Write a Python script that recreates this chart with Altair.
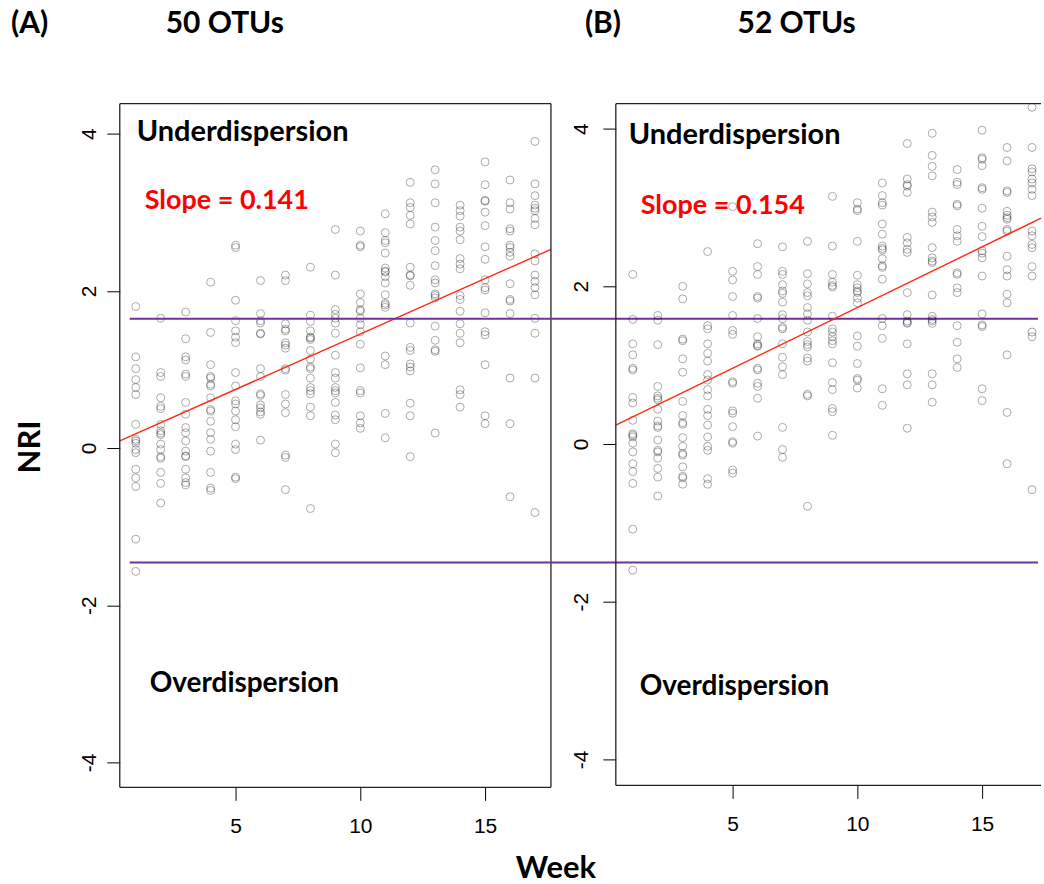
import altair as alt
import pandas as pd

WEEKS = list(range(1, 18))

# Panel A (50 OTUs): NRI values per week 1..17
NRI_A = [
    [1.80, 1.16, 1.01, 0.87, 0.77, 0.68, 0.30, 0.11, 0.09, 0.06, -0.02, -0.06, -0.27, -0.38, -0.49, -1.16, -1.57],
    [1.65, 0.96, 0.91, 0.64, 0.53, 0.50, 0.30, 0.22, 0.19, 0.17, 0.05, -0.02, -0.11, -0.13, -0.31, -0.45, -0.70],
    [1.73, 1.39, 1.16, 1.12, 0.94, 0.91, 0.58, 0.43, 0.26, 0.195, 0.09, -0.04, -0.10, -0.11, -0.27, -0.38, -0.44, -0.47],
    [2.11, 1.47, 1.06, 0.91, 0.89, 0.81, 0.79, 0.64, 0.49, 0.47, 0.34, 0.195, 0.11, -0.04, -0.31, -0.51, -0.54],
    [2.58, 2.55, 1.88, 1.62, 1.49, 1.41, 1.34, 0.96, 0.79, 0.60, 0.56, 0.47, 0.36, 0.27, 0.05, -0.02, -0.37, -0.39],
    [2.13, 1.71, 1.62, 1.59, 1.46, 1.45, 1.01, 0.91, 0.69, 0.67, 0.55, 0.51, 0.46, 0.43, 0.10],
    [2.20, 2.13, 1.58, 1.51, 1.49, 1.34, 1.31, 1.27, 1.01, 0.99, 0.68, 0.56, 0.45, -0.09, -0.12, -0.53],
    [2.30, 1.69, 1.61, 1.49, 1.41, 1.40, 1.38, 1.24, 1.13, 1.03, 1.01, 0.89, 0.77, 0.73, 0.69, 0.52, 0.41, -0.77],
    [2.78, 2.20, 1.76, 1.70, 1.65, 1.59, 1.46, 1.18, 0.96, 0.89, 0.77, 0.73, 0.70, 0.58, 0.42, 0.36, 0.05, -0.06],
    [2.76, 2.58, 2.56, 1.96, 1.85, 1.76, 1.74, 1.65, 1.57, 1.48, 1.32, 1.02, 0.73, 0.70, 0.41, 0.32, 0.25],
    [2.98, 2.74, 2.64, 2.61, 2.48, 2.29, 2.25, 2.24, 2.18, 2.10, 1.95, 1.84, 1.82, 1.79, 1.17, 1.06, 0.44, 0.13],
    [3.38, 3.12, 3.06, 2.96, 2.85, 2.30, 2.20, 2.19, 2.07, 1.59, 1.28, 1.24, 1.07, 1.03, 0.98, 0.57, 0.41, -0.11],
    [3.54, 3.36, 3.12, 2.81, 2.64, 2.51, 2.32, 2.14, 2.10, 1.96, 1.94, 1.91, 1.55, 1.37, 1.25, 1.23, 0.19],
    [3.09, 3.02, 2.95, 2.81, 2.76, 2.65, 2.41, 2.34, 2.28, 1.94, 1.89, 1.74, 1.58, 1.46, 1.34, 0.74, 0.68, 0.52],
    [3.64, 3.35, 3.15, 3.14, 3.00, 2.83, 2.56, 2.40, 2.14, 2.04, 2.01, 1.72, 1.48, 1.44, 1.06, 0.41, 0.31],
    [3.41, 3.12, 3.04, 2.79, 2.76, 2.58, 2.55, 2.49, 2.44, 2.09, 1.89, 1.87, 1.71, 0.89, 0.31, -0.62],
    [3.90, 3.36, 3.21, 3.09, 3.05, 3.02, 2.92, 2.84, 2.47, 2.38, 2.20, 2.12, 2.04, 1.95, 1.65, 1.46, 0.89, -0.82],
]

# Panel B (52 OTUs): NRI values per week 1..17
NRI_B = [
    [2.15, 1.58, 1.27, 1.13, 0.96, 0.94, 0.59, 0.52, 0.30, 0.13, 0.11, 0.09, 0.01, -0.10, -0.25, -0.35, -0.50, -1.08, -1.60],
    [1.63, 1.57, 1.26, 0.73, 0.61, 0.58, 0.56, 0.44, 0.29, 0.23, 0.21, 0.05, -0.08, -0.10, -0.18, -0.31, -0.42, -0.66],
    [2.00, 1.84, 1.33, 1.31, 1.08, 0.91, 0.54, 0.36, 0.27, 0.25, 0.08, -0.03, -0.12, -0.14, -0.29, -0.41, -0.43, -0.51],
    [2.44, 1.50, 1.46, 1.27, 1.15, 1.05, 0.88, 0.81, 0.69, 0.61, 0.44, 0.36, 0.24, 0.09, -0.03, -0.08, -0.44, -0.51],
    [3.01, 2.19, 2.08, 1.87, 1.63, 1.44, 1.39, 0.79, 0.77, 0.42, 0.39, 0.22, 0.03, 0.01, -0.33, -0.37],
    [2.54, 2.25, 2.15, 1.87, 1.85, 1.59, 1.36, 1.27, 1.25, 1.24, 0.96, 0.94, 0.77, 0.73, 0.58, 0.10],
    [2.50, 2.19, 2.15, 2.02, 1.94, 1.91, 1.80, 1.64, 1.59, 1.48, 1.46, 1.27, 1.10, 0.98, 0.88, 0.21, -0.07, -0.17],
    [2.57, 2.16, 2.03, 1.92, 1.88, 1.73, 1.65, 1.57, 1.42, 1.30, 1.26, 1.23, 1.09, 1.05, 0.63, 0.61, -0.79],
    [3.14, 2.51, 2.15, 2.05, 2.01, 1.99, 1.62, 1.46, 1.42, 1.36, 1.31, 1.27, 1.03, 0.78, 0.69, 0.45, 0.41, 0.11],
    [3.06, 2.98, 2.96, 2.57, 2.14, 2.02, 1.98, 1.94, 1.92, 1.85, 1.79, 1.37, 1.24, 1.02, 0.83, 0.81, 0.71],
    [3.31, 3.15, 3.06, 3.03, 2.79, 2.66, 2.51, 2.48, 2.46, 2.35, 2.26, 2.24, 2.09, 1.59, 1.50, 1.34, 0.70, 0.49],
    [3.81, 3.36, 3.29, 3.27, 3.19, 2.62, 2.55, 2.47, 2.43, 1.92, 1.64, 1.56, 1.54, 1.53, 1.27, 0.89, 0.75, 0.20],
    [3.94, 3.66, 3.52, 3.40, 2.94, 2.88, 2.81, 2.49, 2.36, 2.32, 2.30, 1.89, 1.62, 1.58, 1.56, 1.53, 0.89, 0.75, 0.53],
    [3.48, 3.32, 3.29, 3.04, 3.02, 2.72, 2.64, 2.57, 2.17, 2.15, 1.98, 1.92, 1.50, 1.29, 1.08, 0.97],
    [3.98, 3.63, 3.61, 3.53, 3.25, 3.23, 2.99, 2.76, 2.63, 2.45, 2.42, 2.36, 2.13, 1.65, 1.51, 1.49, 0.70, 0.55],
    [3.76, 3.59, 3.21, 3.19, 2.95, 2.90, 2.87, 2.85, 2.72, 2.70, 2.38, 2.21, 2.13, 1.90, 1.79, 1.13, 0.40, -0.25],
    [4.27, 3.76, 3.49, 3.45, 3.36, 3.31, 3.23, 3.15, 2.70, 2.64, 2.53, 2.49, 2.25, 2.13, 1.42, 1.36, -0.58],
]

# Fitted regression lines (intercept, slope)
INTERCEPT_A, SLOPE_A = 0.04, 0.141
INTERCEPT_B, SLOPE_B = 0.19, 0.154

# Threshold lines (NRI)
THRESHOLDS = [1.645, -1.456]

X_TICKS = [5, 10, 15]
Y_TICKS = [-4, -2, 0, 2, 4]

TITLE_FONT = "Lato"
AXIS_FONT = "Liberation Sans"
TICK_FONT_SIZE = 21


def points_df(values):
    rows = []
    for w, vals in zip(WEEKS, values):
        for v in vals:
            rows.append({"week": w, "nri": v})
    return pd.DataFrame(rows)


def text_layer(txt, x, y, size, color="black", align="left", baseline="alphabetic", angle=0,
               font=TITLE_FONT, weight="bold"):
    kw = dict(align=align, baseline=baseline, font=font, fontWeight=weight,
              fontSize=size, color=color)
    if angle:
        kw["angle"] = angle
    return alt.Chart(pd.DataFrame({"t": [txt]})).mark_text(**kw).encode(
        x=alt.value(x), y=alt.value(y), text="t:N")


def frame_rule(x, x2, y, y2):
    return alt.Chart(pd.DataFrame({"k": [0]})).mark_rule(color="#222222", strokeWidth=1.3).encode(
        x=alt.value(x), x2=alt.value(x2), y=alt.value(y), y2=alt.value(y2))


def panel(values, xdom, ydom, W, H, icpt, slope, ylabel_pad, right_frame, extras):
    x_enc = alt.X("week:Q", scale=alt.Scale(domain=xdom, nice=False, zero=False),
                  axis=alt.Axis(values=X_TICKS, title=None, grid=False, domain=False,
                                tickSize=13, tickColor="black", labelFont=AXIS_FONT,
                                labelFontSize=TICK_FONT_SIZE, labelColor="black",
                                labelPadding=26, labelBaseline="middle", labelAngle=0,
                                labelAlign="center", labelExpr="toString(datum.value)"))
    y_enc = alt.Y("nri:Q", scale=alt.Scale(domain=ydom, nice=False, zero=False),
                  axis=alt.Axis(values=Y_TICKS, title=None, grid=False, domain=False,
                                tickSize=13, tickColor="black", labelFont=AXIS_FONT,
                                labelFontSize=TICK_FONT_SIZE, labelColor="black",
                                labelPadding=ylabel_pad, labelAngle=270, labelAlign="center",
                                labelBaseline="middle", labelExpr="toString(datum.value)"))
    pts = alt.Chart(points_df(values)).mark_point(
        shape="circle", filled=False, size=64, color="black", opacity=0.33, strokeWidth=1
    ).encode(x=x_enc, y=y_enc)

    xs = [xdom[0], xdom[1]]
    line_df = pd.DataFrame({"week": xs, "nri": [icpt + slope * v for v in xs]})
    reg = alt.Chart(line_df).mark_line(color="#ff2a10", strokeWidth=1.4).encode(
        x=x_enc, y=y_enc)

    layers = [pts, reg]
    layers.append(frame_rule(0, W, 0, 0))
    layers.append(frame_rule(0, W, H, H))
    layers.append(frame_rule(0, 0, 0, H))
    if right_frame:
        layers.append(frame_rule(W, W, 0, H))
    layers.extend(extras)
    return alt.layer(*layers).properties(width=W, height=H)


W_A, H_A = 432, 685
W_B, H_B = 426, 683

thr = alt.Chart(pd.DataFrame({"nri": THRESHOLDS})).mark_rule(
    color="#7030a0", strokeWidth=2).encode(
    x=alt.value(10), x2=alt.value(920), y="nri:Q")

anchor = alt.Chart(pd.DataFrame({"k": [0]})).mark_point(opacity=0, size=1).encode(
    x=alt.value(-119.5), y=alt.value(-102.5))

extras_A = [
    thr,
    anchor,
    text_layer("Underdispersion", 17, 37, 29),
    text_layer("Slope = 0.141", 25, 106, 27, color="#ff0000"),
    text_layer("Overdispersion", 30, 589, 28),
    text_layer("(A)", -109, -71, 30),
    text_layer("50 OTUs", 46, -71, 30),
    text_layer("NRI", -89, 344, 31, align="center", baseline="middle", angle=270),
    text_layer("Week", 437, 776, 31, align="center"),
]
extras_B = [
    text_layer("Underdispersion", 13, 40, 29),
    text_layer("Slope = 0.154", 25, 111, 27, color="#ff0000"),
    text_layer("Overdispersion", 24, 592, 28),
    text_layer("(B)", -31, -71, 30),
    text_layer("52 OTUs", 122, -71, 30),
]

pA = panel(NRI_A, [0.36, 17.64], [-4.317, 4.381], W_A, H_A, INTERCEPT_A, SLOPE_A, 17, True, extras_A)
pB = panel(NRI_B, [0.32, 17.36], [-4.329, 4.316], W_B, H_B, INTERCEPT_B, SLOPE_B, 21, False, extras_B)

chart = alt.hconcat(pA, pB, spacing=65, bounds="flush").properties(
    padding=0, background="white"
).configure_view(stroke=None).configure_axis(
    labelFont=AXIS_FONT, labelFontSize=TICK_FONT_SIZE, labelColor="black",
    tickColor="black", tickWidth=1, tickSize=13
)

chart.save("out.html", embed_options={"renderer": "svg", "actions": False})
